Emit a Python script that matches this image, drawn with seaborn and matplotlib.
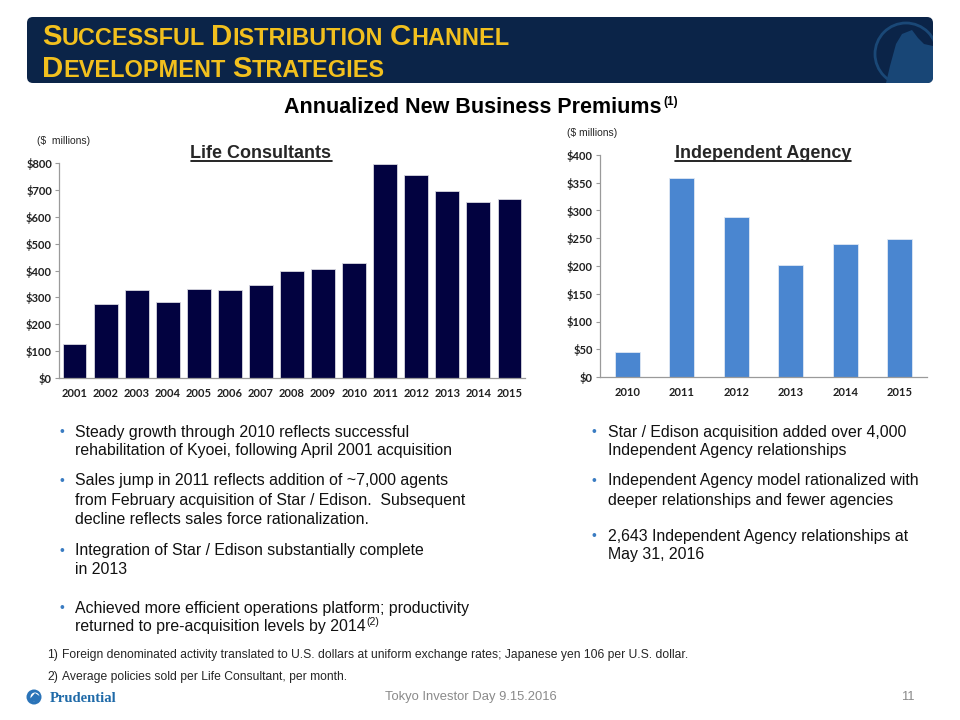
import matplotlib
matplotlib.use("Agg")
import matplotlib.pyplot as plt
import seaborn as sns
import pandas as pd
from matplotlib.patches import FancyBboxPatch, Circle, Polygon
from matplotlib.ticker import FuncFormatter

# ---------------- data ----------------
lc_years = ["2001", "2002", "2003", "2004", "2005", "2006", "2007", "2008",
            "2009", "2010", "2011", "2012", "2013", "2014", "2015"]
lc_values = [126, 277, 326, 284, 330, 329, 345, 399, 406, 428, 796, 756, 697, 655, 666]

ia_years = ["2010", "2011", "2012", "2013", "2014", "2015"]
ia_values = [45, 359, 288, 202, 239, 248]

lc_ticks = [0, 100, 200, 300, 400, 500, 600, 700, 800]
ia_ticks = [0, 50, 100, 150, 200, 250, 300, 350, 400]

title_line1 = [("S", True), ("UCCESSFUL", False), (" ", None), ("D", True), ("ISTRIBUTION", False),
               (" ", None), ("C", True), ("HANNEL", False)]
title_line2 = [("D", True), ("EVELOPMENT", False), (" ", None), ("S", True), ("TRATEGIES", False)]

left_bullets = [
    ["Steady growth through 2010 reflects successful",
     "rehabilitation of Kyoei, following April 2001 acquisition"],
    ["Sales jump in 2011 reflects addition of ~7,000 agents",
     "from February acquisition of Star / Edison.  Subsequent",
     "decline reflects sales force rationalization."],
    ["Integration of Star / Edison substantially complete",
     "in 2013"],
    ["Achieved more efficient operations platform; productivity",
     "returned to pre-acquisition levels by 2014"],
]
left_bullet_y = [[432, 451], [481, 500, 519], [551, 570], [608, 627]]

right_bullets = [
    ["Star / Edison acquisition added over 4,000",
     "Independent Agency relationships"],
    ["Independent Agency model rationalized with",
     "deeper relationships and fewer agencies"],
    ["2,643 Independent Agency relationships at",
     "May 31, 2016"],
]
right_bullet_y = [[432, 451], [481, 500], [536, 555]]

footnotes = ["Foreign denominated activity translated to U.S. dollars at uniform exchange rates; Japanese yen 106 per U.S. dollar.",
             "Average policies sold per Life Consultant, per month."]

# ---------------- style ----------------
sns.set_style("white")
plt.rcParams["font.family"] = ["Liberation Sans", "DejaVu Sans"]

NAVY_BAR = "#020240"
BLUE_BAR = "#4a86d0"
BAND = "#0b2448"
YELLOW = "#f2c01e"
BULLET_BLUE = "#3a7cc2"
AXIS_GRAY = "#9a9a9a"

fig = plt.figure(figsize=(9.6, 7.2), dpi=100)
fig.patch.set_facecolor("white")

# background overlay in pixel coordinates
bg = fig.add_axes([0, 0, 1, 1], zorder=0)
bg.set_xlim(0, 960)
bg.set_ylim(720, 0)
bg.axis("off")
bg.patch.set_alpha(0)

renderer = fig.canvas.get_renderer()

# header band
band = FancyBboxPatch((27, 17), 906, 66, boxstyle="round,pad=0,rounding_size=6",
                      facecolor=BAND, edgecolor="none", zorder=1)
bg.add_patch(band)
circ = Circle((906, 54), 31, facecolor="none", edgecolor="#1a4877", linewidth=2.0, zorder=2)
bg.add_patch(circ)
circ.set_clip_path(band)
rock = Polygon([(886, 83), (890, 66), (896, 44), (902, 34), (912, 30), (918, 38), (924, 44),
                (933, 46), (933, 83)], closed=True, facecolor="#184676", edgecolor="none", zorder=2)
bg.add_patch(rock)
rock.set_clip_path(band)


def draw_smallcaps(segments, x, y, big, small, draw=True):
    x0 = x
    arts = []
    for txt, isbig in segments:
        if isbig is None:
            x += 0.28 * small * 100 / 72
            continue
        t = bg.text(x, y, txt, fontsize=big if isbig else small, fontweight="bold",
                    color=YELLOW, va="baseline", ha="left", zorder=3)
        bb = t.get_window_extent(renderer=renderer)
        x += bb.width
        arts.append(t)
    if not draw:
        for a in arts:
            a.remove()
    return x - x0


# autofit title width
base_big, base_small = 20.0, 16.0
w = draw_smallcaps(title_line1, 42, 45, base_big, base_small, draw=False)
scale = 468.0 / w
draw_smallcaps(title_line1, 42, 45, base_big * scale, base_small * scale)
draw_smallcaps(title_line2, 42, 77, base_big * scale, base_small * scale)

# main subtitle
bg.text(661, 113, "Annualized New Business Premiums", fontsize=15.5, fontweight="bold",
        ha="right", va="baseline", color="black")
bg.text(663, 105, "(1)", fontsize=8.5, fontweight="bold", ha="left", va="baseline", color="black")


def underlined_title(x, y, s, size):
    tt = bg.text(x, y, s, fontsize=size, fontweight="bold", ha="center", va="baseline")
    bb = tt.get_window_extent(renderer=renderer)
    bg.plot([bb.x0, bb.x1], [y + 2.5, y + 2.5], color="black", linewidth=1.2)


underlined_title(261, 158, "Life Consultants", 13)
underlined_title(763, 158, "Independent Agency", 13)

bg.text(37, 141, "($  millions)", fontsize=7.5, ha="left", va="center")
bg.text(567, 133, "($ millions)", fontsize=7.5, ha="left", va="center")

# ---------------- charts ----------------
tick_font = dict(family=["Lato", "DejaVu Sans"], weight="bold", size=8)

ax1 = fig.add_axes([59 / 960, 1 - 378 / 720, 466 / 960, 215 / 720], zorder=2)
df1 = pd.DataFrame({"year": lc_years, "value": lc_values})
sns.barplot(data=df1, x="year", y="value", color=NAVY_BAR, saturation=1, width=0.77,
            edgecolor="#d8d8e0", linewidth=0.6, ax=ax1)
ax1.set_xlim(-0.5, len(lc_years) - 0.5)
ax1.set_ylim(0, 800)
ax1.set_yticks(lc_ticks)

ax2 = fig.add_axes([600 / 960, 1 - 377 / 720, 327 / 960, 222 / 720], zorder=2)
df2 = pd.DataFrame({"year": ia_years, "value": ia_values})
sns.barplot(data=df2, x="year", y="value", color=BLUE_BAR, saturation=1, width=0.45,
            edgecolor="#dfe8f4", linewidth=0.6, ax=ax2)
ax2.set_xlim(-0.5, len(ia_years) - 0.5)
ax2.set_ylim(0, 400)
ax2.set_yticks(ia_ticks)

for ax in (ax1, ax2):
    ax.patch.set_alpha(0)
    ax.set_xlabel("")
    ax.set_ylabel("")
    for s in ("top", "right"):
        ax.spines[s].set_visible(False)
    for s in ("left", "bottom"):
        ax.spines[s].set_color(AXIS_GRAY)
        ax.spines[s].set_linewidth(0.9)
    ax.yaxis.set_major_formatter(FuncFormatter(lambda v, p: f"${v:.0f}"))
    ax.tick_params(axis="y", which="major", length=3, width=0.8, color=AXIS_GRAY, pad=2,
                   left=True, direction="out")
    ax.tick_params(axis="x", length=0, pad=7)
    for lab in ax.get_yticklabels() + ax.get_xticklabels():
        lab.set_fontfamily(tick_font["family"])
        lab.set_fontweight("bold")
        lab.set_fontsize(tick_font["size"])
        lab.set_color("#202020")

# ---------------- bullets ----------------
BODY = 11.4


def bullets(lines_list, ys_list, bx, tx):
    last = None
    for lines, ys in zip(lines_list, ys_list):
        bg.text(bx, ys[0], "•", fontsize=10, color=BULLET_BLUE, ha="left", va="center")
        for ln, yy in zip(lines, ys):
            last = bg.text(tx, yy, ln, fontsize=BODY, ha="left", va="center", color="#111111")
    return last


last = bullets(left_bullets, left_bullet_y, 60, 75)
bb = last.get_window_extent(renderer=renderer)
bg.text(bb.x1 + 1, 622, "(2)", fontsize=7.5, ha="left", va="center", color="#111111")
bullets(right_bullets, right_bullet_y, 592, 608)

# ---------------- footnotes / footer ----------------
foot_family = ["Liberation Sans Narrow", "Liberation Sans"]
for i, (txt, yy) in enumerate(zip(footnotes, [655, 677])):
    bg.text(47, yy, f"{i + 1})", fontsize=8.7, family=foot_family, ha="left", va="center")
    bg.text(62, yy, txt, fontsize=8.7, family=foot_family, ha="left", va="center")

bg.text(471, 697, "Tokyo Investor Day 9.15.2016", fontsize=9.4, family=foot_family,
        color="#8a8a8a", ha="center", va="center")
bg.text(915, 697, "11", fontsize=9.4, family=foot_family, color="#8a8a8a", ha="right", va="center")

bg.add_patch(Circle((34, 697), 7.5, facecolor="#2a73b8", edgecolor="none"))
bg.add_patch(Circle((35, 697), 4.5, facecolor="white", edgecolor="none"))
bg.add_patch(Polygon([(29, 700), (35, 693), (41, 697), (38, 703)], closed=True,
                     facecolor="#2a73b8", edgecolor="none"))
bg.text(50, 698, "Prudential", fontsize=10.5, fontweight="bold",
        family=["Liberation Serif", "DejaVu Serif"], color="#1f6aa8", ha="left", va="center")

fig.savefig("out.png", dpi=100, facecolor="white")
